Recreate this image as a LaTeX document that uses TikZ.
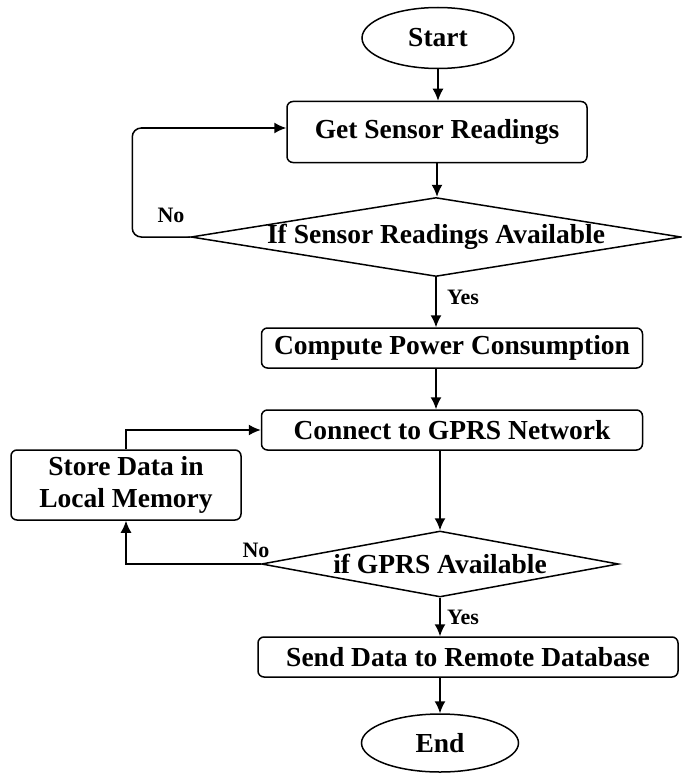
\documentclass[tikz,border=0pt]{standalone}
\usepackage{fontspec}
\setmainfont{Liberation Serif}
\usetikzlibrary{shapes.geometric,arrows.meta}

\begin{document}
\begin{tikzpicture}[x=1pt, y=-1pt, line width=1.5pt, >={Latex[length=12pt,width=11pt]},
                        font=\bfseries\fontsize{27.5}{32}\selectfont,
                        terminal/.style={ellipse, draw, inner sep=0pt},
                        process/.style={rectangle, rounded corners=6pt, draw, align=center, inner sep=0pt},
                        decision/.style={diamond, draw, inner sep=0pt},
                        answer/.style={font=\bfseries\fontsize{22}{24}\selectfont, inner sep=0pt}]

                        \useasboundingbox (0,0) rectangle (682,773);

                        % Flow chart
                        \node[terminal, minimum width=152pt, minimum height=61pt] (S) at (438,38) {Start}; % Start
                        \node[process, minimum width=300pt, minimum height=61pt] (G) at (437,132) {Get Sensor Readings}; % Read sensors
                        \node[decision, minimum width=490pt, minimum height=79pt,
                              label=center:{If Sensor Readings Available}] (D1) at (436,237) {}; % First check
                        \node[process, minimum width=381pt, minimum height=40pt] (C) at (452,348) {Compute Power Consumption};
                        \node[process, minimum width=381pt, minimum height=40pt] (N) at (452,430) {Connect to GPRS Network};
                        \node[process, minimum width=230pt, minimum height=70pt] (M) at (126,485) {Store Data in\\Local Memory}; % Fallback
                        \node[decision, minimum width=357pt, minimum height=66pt,
                              label=center:{if GPRS Available}] (D2) at (440,564) {}; % Second check
                        \node[process, minimum width=420pt, minimum height=40pt] (R) at (468,657) {Send Data to Remote Database};
                        \node[terminal, minimum width=157pt, minimum height=58pt] (E) at (440,743) {End}; % End

                        % Answers
                        \node[answer] (no1) at (171,215) {No};
                        \node[answer] (yes1) at (463,297) {Yes};
                        \node[answer] (no2) at (256,550) {No};
                        \node[answer] (yes2) at (463,617) {Yes};

                        % Define edges
                        \path [->](S.south) edge (S.south |- G.north);
                        \path [->](G.south) edge (G.south |- D1.north);
                        \path [->](D1.south) edge (D1.south |- C.north);
                        \path [->](D1.south |- C.south) edge (D1.south |- N.north);
                        \path [->](D2.north |- N.south) edge (D2.north);
                        \path [->](D2.south) edge (D2.south |- R.north);
                        \path [->](E.north |- R.south) edge (E.north);
                        \draw [->, rounded corners=9pt](D1.west) -- ++(-58,0) |- ([yshift=4pt]G.west);
                        \draw [->](D2.west) -| (M.south);
                        \draw [->](M.north) |- (N.west);
                    \end{tikzpicture}
\end{document}
